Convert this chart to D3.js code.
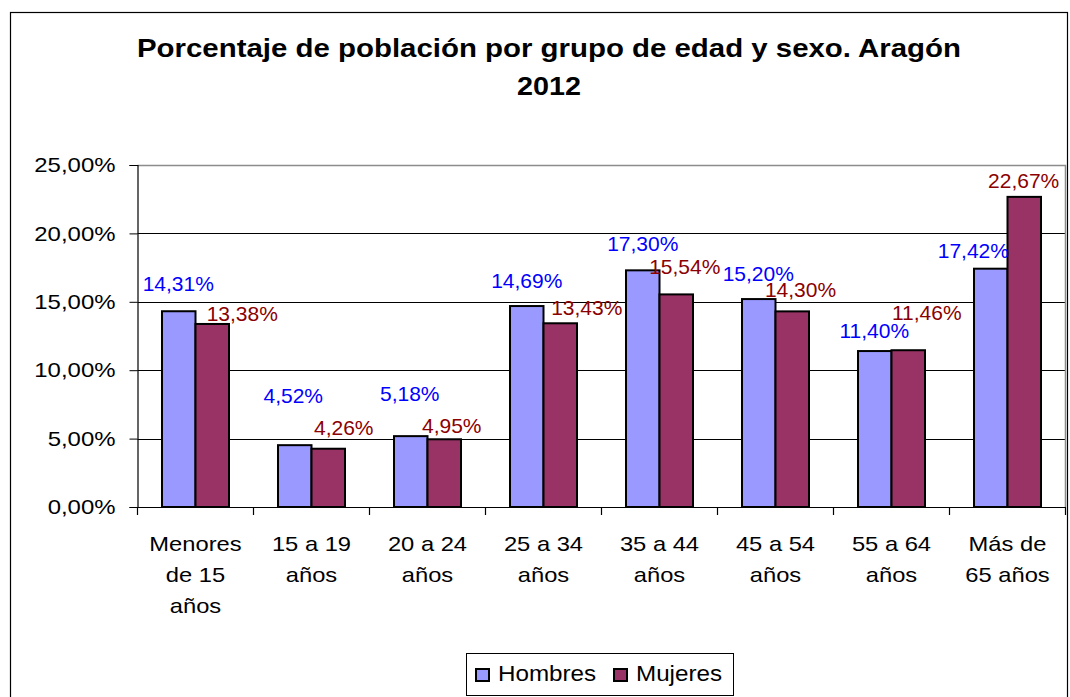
<!DOCTYPE html>
<html>
<head>
<meta charset="utf-8">
<script src="https://cdn.jsdelivr.net/npm/d3@7"></script>
<style>
  html, body { margin: 0; padding: 0; background: #fff; }
  svg { display: block; font-family: "Liberation Sans", Arial, sans-serif; }
</style>
</head>
<body>
<svg id="chart" width="1070" height="697"></svg>
<script>
// ---- data ----
const categories = ["Menores de 15 años", "15 a 19 años", "20 a 24 años", "25 a 34 años",
                    "35 a 44 años", "45 a 54 años", "55 a 64 años", "Más de 65 años"];
const series = ["Hombres", "Mujeres"];
const hombres = [14.31, 4.52, 5.18, 14.69, 17.30, 15.20, 11.40, 17.42];
const mujeres = [13.38, 4.26, 4.95, 13.43, 15.54, 14.30, 11.46, 22.67];
const yTicks = [0, 5, 10, 15, 20, 25];
const titleLines = ["Porcentaje de población por grupo de edad y sexo. Aragón", "2012"];

// ---- layout / style ----
const colors = { Hombres: "#9999FF", Mujeres: "#993366" };
const labelColors = { Hombres: "#0000FF", Mujeres: "#8B0000" };
// manual nudges of data labels (px, relative to bar top centre), as placed in the original
const labelNudge = {
  Hombres: [[-0.5,-20.5],[-1.5,-42],[-1,-35.4],[0,-18.3],[0,-19.6],[-0.5,-18.4],[-0.5,-12.7],[-17.4,-10.7]],
  Mujeres: [[30,-3.3],[15.5,-13.7],[7.5,-6.6],[26.5,-8.3],[8.5,-20.4],[8.3,-14.2],[18.5,-30.2],[-0.6,-8.9]]
};

// horizontally widen a text element (the original's font renders wider)
function stretch(sel, f) {
  sel.each(function () {
    const len = this.getComputedTextLength();
    d3.select(this).attr("textLength", len * f).attr("lengthAdjust", "spacingAndGlyphs");
  });
}

const svg = d3.select("#chart");
const plot = { left: 137.5, right: 1065.5, top: 165, bottom: 507 };

const locale = d3.formatLocale({ decimal: ",", thousands: ".", grouping: [3], currency: ["", "€"] });
const fmt = v => locale.format(".2f")(v) + "%";

// outer chart frame
svg.append("rect")
  .attr("x", 10.5).attr("y", 12.5).attr("width", 1057).attr("height", 700)
  .attr("fill", "none").attr("stroke", "#000").attr("stroke-width", 1.2);

// title
titleLines.forEach((t, i) => {
  svg.append("text")
    .attr("x", 549).attr("y", 57 + i * 38)
    .attr("text-anchor", "middle")
    .attr("font-size", 25).attr("font-weight", "bold")
    .attr("textLength", i === 0 ? 824 : 64).attr("lengthAdjust", "spacingAndGlyphs")
    .text(t);
});

// scales
const x0 = d3.scaleBand().domain(categories).range([plot.left, plot.right]).paddingInner(0).paddingOuter(0);
const x1 = d3.scaleBand().domain(series).range([24.5, 91.5]).padding(0);
const y = d3.scaleLinear().domain([0, 25]).range([plot.bottom, plot.top]);

// gridlines
svg.append("g").selectAll("line").data(yTicks.filter(t => t > 0 && t < 25)).join("line")
  .attr("x1", plot.left).attr("x2", plot.right)
  .attr("y1", d => Math.round(y(d)) + 0.5).attr("y2", d => Math.round(y(d)) + 0.5)
  .attr("stroke", "#000").attr("stroke-width", 1);

// plot area top / right border (gray)
svg.append("path")
  .attr("d", `M${plot.left},${plot.top + 0.5}H${plot.right}V${plot.bottom}`)
  .attr("fill", "none").attr("stroke", "#8c8c8c").attr("stroke-width", 1.5);

// y axis
const yAxis = d3.axisLeft(y).tickValues(yTicks).tickSize(8).tickPadding(14).tickFormat(fmt);
const gy = svg.append("g").attr("transform", `translate(${plot.left},0)`).call(yAxis);
gy.select(".domain").attr("stroke", "#000").attr("stroke-width", 1.2);
gy.selectAll(".tick line").attr("stroke", "#000");
gy.selectAll(".tick text").attr("font-size", 21).attr("fill", "#000")
  .attr("font-family", "Liberation Sans, Arial, sans-serif");
stretch(gy.selectAll(".tick text"), 1.14);

// bars
const groups = svg.append("g").selectAll("g").data(categories).join("g")
  .attr("transform", d => `translate(${x0(d)},0)`);
groups.selectAll("rect").data((d, i) => series.map(s => ({ s, v: s === "Hombres" ? hombres[i] : mujeres[i], i })))
  .join("rect")
  .attr("x", d => x1(d.s)).attr("width", x1.bandwidth())
  .attr("y", d => y(d.v)).attr("height", d => y(0) - y(d.v))
  .attr("fill", d => colors[d.s]).attr("stroke", "#000").attr("stroke-width", 2);

// x axis
const xAxis = d3.axisBottom(x0).tickSize(0).tickFormat("");
const gx = svg.append("g").attr("transform", `translate(0,${plot.bottom})`).call(xAxis);
gx.select(".domain").attr("stroke", "#000").attr("stroke-width", 1.2);
// tick marks at band boundaries
const bounds = categories.map(c => x0(c)).concat([plot.right]);
svg.append("g").selectAll("line").data(bounds).join("line")
  .attr("x1", d => d).attr("x2", d => d)
  .attr("y1", plot.bottom).attr("y2", plot.bottom + 8)
  .attr("stroke", "#000").attr("stroke-width", 1.2);

// x category labels (wrapped)
const measure = svg.append("text").attr("font-size", 21).attr("visibility", "hidden");
function wrap(str, maxW) {
  const words = str.split(" ");
  const lines = [];
  let cur = "";
  words.forEach(w => {
    const test = cur ? cur + " " + w : w;
    measure.text(test);
    if (cur && measure.node().getComputedTextLength() > maxW) { lines.push(cur); cur = w; }
    else cur = test;
  });
  if (cur) lines.push(cur);
  return lines;
}
categories.forEach(c => {
  const lines = wrap(c, 90);
  lines.forEach((ln, k) => {
    const t = svg.append("text").attr("text-anchor", "middle").attr("font-size", 21).attr("fill", "#000")
      .attr("x", x0(c) + x0.bandwidth() / 2).attr("y", 551 + k * 31).text(ln);
    stretch(t, 1.13);
  });
});
measure.remove();

// data labels
series.forEach(s => {
  const vals = s === "Hombres" ? hombres : mujeres;
  svg.append("g").selectAll("text").data(vals).join("text")
    .attr("x", (d, i) => x0(categories[i]) + x1(s) + x1.bandwidth() / 2 + labelNudge[s][i][0])
    .attr("y", (d, i) => y(d) + labelNudge[s][i][1])
    .attr("text-anchor", "middle").attr("font-size", 21)
    .attr("fill", labelColors[s])
    .text(d => fmt(d));
});

// legend
const lg = svg.append("g");
lg.append("rect").attr("x", 466.5).attr("y", 653.5).attr("width", 267).attr("height", 42)
  .attr("fill", "#fff").attr("stroke", "#000").attr("stroke-width", 1);
const legendItems = [{ s: "Hombres", x: 476 }, { s: "Mujeres", x: 614 }];
legendItems.forEach(it => {
  lg.append("rect").attr("x", it.x).attr("y", 669).attr("width", 13).attr("height", 12)
    .attr("fill", colors[it.s]).attr("stroke", "#000").attr("stroke-width", 2);
  const t = lg.append("text").attr("x", it.x + 22).attr("y", 681).attr("font-size", 22).attr("fill", "#000").text(it.s);
  stretch(t, 1.1);
});
</script>
</body>
</html>
